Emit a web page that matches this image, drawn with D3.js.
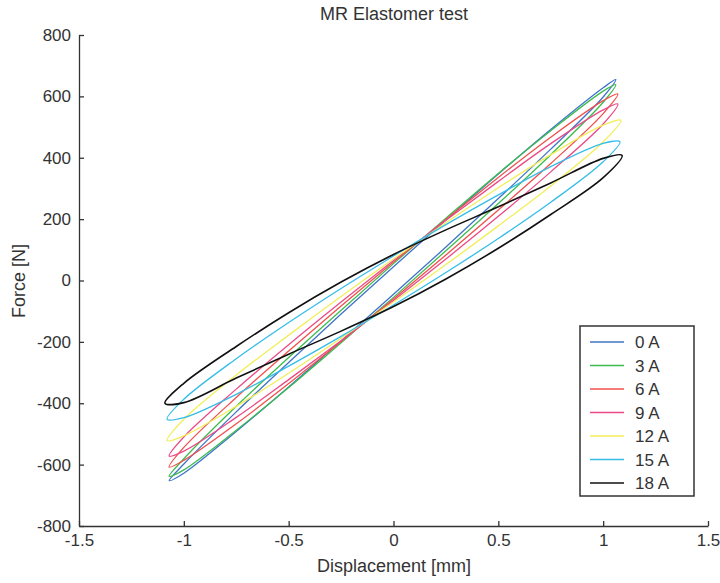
<!DOCTYPE html>
<html>
<head>
<meta charset="utf-8">
<script src="https://cdn.jsdelivr.net/npm/d3@7"></script>
<style>
  body { margin: 0; background: #fff; }
  text { font-family: "Liberation Sans", Arial, sans-serif; fill: #333; }
</style>
</head>
<body>
<div id="chart"></div>
<script>
// displacement grid (mm) where both branches of every loop were read
const xGrid = [-1, -0.75, -0.5, -0.25, 0, 0.25, 0.5, 0.75, 1];

const seriesNames = ["0 A", "3 A", "6 A", "9 A", "12 A", "15 A", "18 A"];
const seriesColors = ["#3f74c8", "#3dbb4f", "#f0504c", "#ec4a86", "#f2ee5a", "#35bde8", "#111111"];

// tips of each loop: [leftX, leftF, rightX, rightF]
const tips0 = [-1.07, -652, 1.06, 655];
const tips3 = [-1.07, -638, 1.06, 638];
const tips6 = [-1.07, -608, 1.07, 608];
const tips9 = [-1.07, -572, 1.07, 575];
const tips12 = [-1.08, -522, 1.085, 522];
const tips15 = [-1.08, -452, 1.08, 452];
const tips18 = [-1.09, -400, 1.09, 408];

// upper branch force (N) at xGrid
const upper0 = [-598, -428, -267, -109, 45, 197, 347, 492, 628];
const upper3 = [-581, -410, -251, -97, 55, 203, 349, 488, 617];
const upper6 = [-544, -381, -230, -83, 60, 199, 336, 467, 586];
const upper9 = [-510, -354, -209, -70, 65, 196, 323, 446, 556];
const upper12 = [-452, -308, -178, -52, 70, 188, 302, 410, 506];
const upper15 = [-387, -255, -137, -26, 80, 182, 279, 371, 447];
const upper18 = [-335, -215, -105, -5, 85, 165, 240, 318, 398];

// lower branch force (N) at xGrid
const lower0 = [-628, -492, -347, -197, -45, 109, 267, 428, 598];
const lower3 = [-617, -488, -349, -203, -55, 97, 251, 410, 581];
const lower6 = [-586, -467, -336, -199, -60, 83, 230, 381, 544];
const lower9 = [-556, -446, -323, -196, -65, 70, 209, 354, 510];
const lower12 = [-506, -410, -302, -188, -70, 52, 178, 308, 452];
const lower15 = [-447, -371, -279, -182, -80, 26, 137, 255, 387];
const lower18 = [-398, -318, -240, -165, -85, 5, 105, 215, 335];

const xTicks = [-1.5, -1, -0.5, 0, 0.5, 1, 1.5];
const yTicks = [-800, -600, -400, -200, 0, 200, 400, 600, 800];

const allTips = [tips0, tips3, tips6, tips9, tips12, tips15, tips18];
const allUpper = [upper0, upper3, upper6, upper9, upper12, upper15, upper18];
const allLower = [lower0, lower3, lower6, lower9, lower12, lower15, lower18];

const width = 720, height = 583;

const x = d3.scaleLinear().domain([-1.5, 1.5]).range([79, 708]);
const y = d3.scaleLinear().domain([-800, 800]).range([526, 35]);

const svg = d3.select("#chart").append("svg")
    .attr("width", width)
    .attr("height", height);

// build the closed loop: left tip, upper branch, right tip, lower branch back
function loopPoints(i) {
  const t = allTips[i];
  let pts = [[t[0], t[1]]];
  xGrid.forEach((xv, j) => pts.push([xv, allUpper[i][j]]));
  pts.push([t[2], t[3]]);
  for (let j = xGrid.length - 1; j >= 0; j--) pts.push([xGrid[j], allLower[i][j]]);
  return pts;
}

const line = d3.line()
    .x(d => x(d[0]))
    .y(d => y(d[1]))
    .curve(d3.curveCatmullRomClosed.alpha(0.5));

svg.append("g").selectAll("path")
    .data(seriesNames)
    .enter().append("path")
    .attr("d", (d, i) => line(loopPoints(i)))
    .attr("fill", "none")
    .attr("stroke", (d, i) => seriesColors[i])
    .attr("stroke-width", (d, i) => i == 6 ? 1.6 : 1.3);

// axes, ticks pointing inward like matlab
const xAxis = d3.axisBottom(x).tickValues(xTicks).tickSizeInner(-5).tickSizeOuter(0).tickPadding(8)
    .tickFormat(d => d);
const yAxis = d3.axisLeft(y).tickValues(yTicks).tickSizeInner(-5).tickSizeOuter(0).tickPadding(8)
    .tickFormat(d => d);

const gx = svg.append("g").attr("transform", "translate(0,526)").call(xAxis);
const gy = svg.append("g").attr("transform", "translate(79,0)").call(yAxis);

[gx, gy].forEach(g => {
  g.selectAll("path, line").attr("stroke", "#333").attr("stroke-width", 1.3);
  g.selectAll("text").style("font-size", "17px").attr("fill", "#333");
});

svg.append("text")
    .attr("x", 394).attr("y", 20)
    .attr("text-anchor", "middle")
    .style("font-size", "18px")
    .text("MR Elastomer test");

svg.append("text")
    .attr("x", 394).attr("y", 572)
    .attr("text-anchor", "middle")
    .style("font-size", "18px")
    .text("Displacement [mm]");

svg.append("text")
    .attr("transform", "translate(25,281) rotate(-90)")
    .attr("text-anchor", "middle")
    .style("font-size", "18px")
    .text("Force [N]");

// legend
const legend = svg.append("g");
legend.append("rect")
    .attr("x", 580).attr("y", 326)
    .attr("width", 114).attr("height", 170)
    .attr("fill", "#fff")
    .attr("stroke", "#333")
    .attr("stroke-width", 1.5);

const entries = legend.selectAll(".entry")
    .data(seriesNames)
    .enter().append("g")
    .attr("class", "entry")
    .attr("transform", (d, i) => "translate(0," + (342 + i * 23.5) + ")");

entries.append("line")
    .attr("x1", 590).attr("x2", 624)
    .attr("stroke", (d, i) => seriesColors[i])
    .attr("stroke-width", 1.5);

entries.append("text")
    .attr("x", 635).attr("y", 6)
    .style("font-size", "17px")
    .text(d => d);
</script>
</body>
</html>
